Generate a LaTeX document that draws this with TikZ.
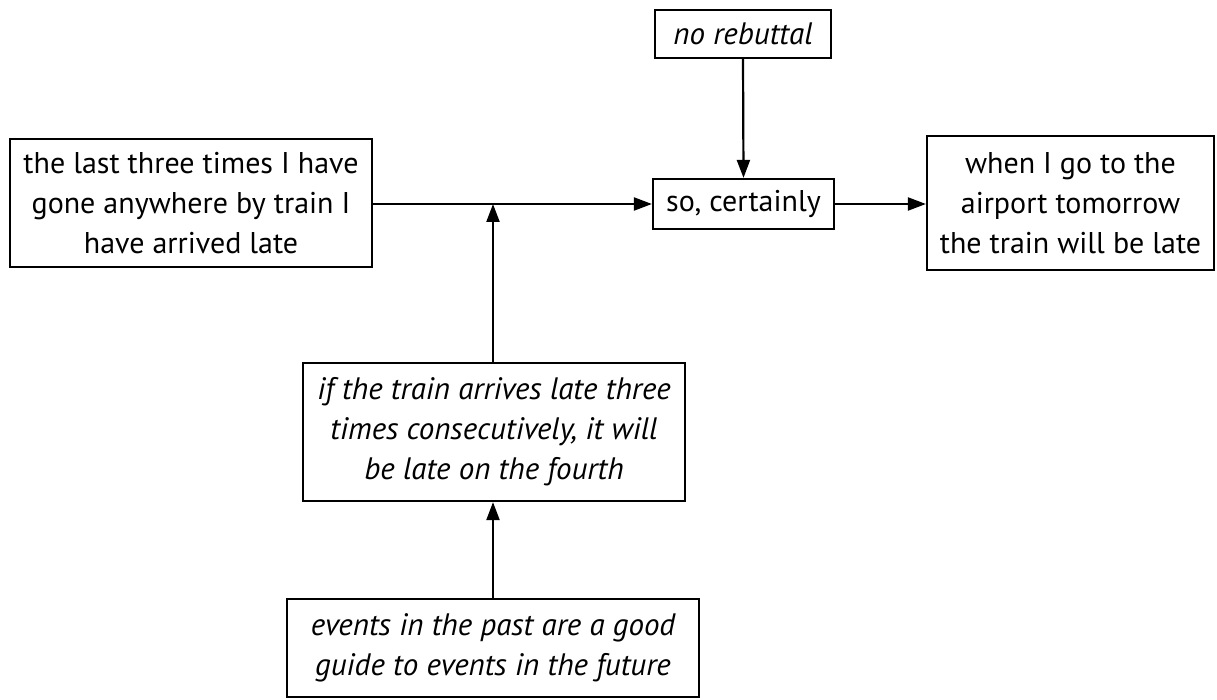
\documentclass[tikz,border=0pt]{standalone}
\usepackage{fontspec}
\setmainfont{PT Sans}
\usetikzlibrary{arrows.meta}
\begin{document}
\begin{tikzpicture}[x=1pt,y=-1pt,
  box/.style={draw,line width=2.2pt,align=center,inner sep=0pt,font=\fontsize{30}{40}\selectfont},
  ibox/.style={box,font=\fontsize{31}{40}\selectfont\itshape},
  conn/.style={line width=2.2pt,-{Triangle[length=18pt,width=13pt]}}]
\useasboundingbox (0,0) rectangle (1217,700);
\node[box,minimum width=362pt,minimum height=128pt] (data) at (191,203) {the last three times I have\\gone anywhere by train I\\have arrived late};
\node[ibox,minimum width=176pt,minimum height=48pt] (reb) at (743,34) {no rebuttal};
\node[box,minimum width=181pt,minimum height=50pt] (qual) at (743.5,204) {so, certainly};
\node[box,minimum width=287pt,minimum height=134pt] (claim) at (1070.5,203) {when I go to the\\airport tomorrow\\the train will be late};
\node[ibox,minimum width=382pt,minimum height=138pt] (warr) at (494,432) {if the train arrives late three\\times consecutively, it will\\be late on the fourth};
\node[ibox,minimum width=412pt,minimum height=98pt] (back) at (493,648) {events in the past are a good\\guide to events in the future};
\coordinate (j) at (493,204);
\draw[conn] (data.east |- qual.west) -- (qual.west);
\draw[conn] (qual.east) -- (claim.west |- qual.east);
\draw[conn] (reb.south) -- (qual.north);
\draw[conn] (warr.north -| j) -- (j);
\draw[conn] (back.north -| j) -- (warr.south -| j);
\end{tikzpicture}
\end{document}
